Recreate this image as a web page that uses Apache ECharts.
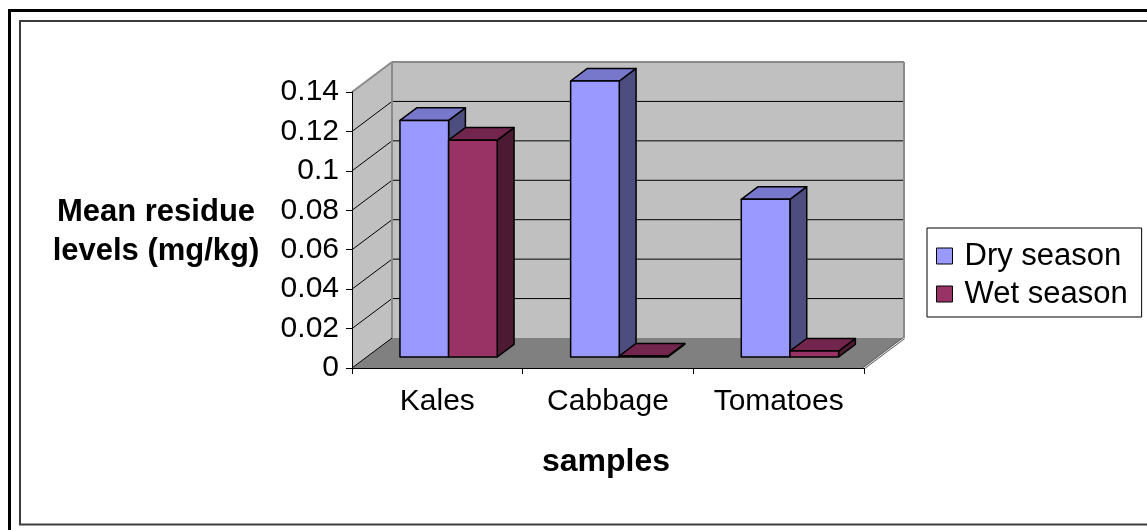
<!DOCTYPE html>
<html>
<head>
<meta charset="utf-8">
<title>Mean residue levels by season</title>
<script src="https://cdn.jsdelivr.net/npm/echarts@6/dist/echarts.min.js"></script>
<style>
  html, body { margin: 0; padding: 0; background: #ffffff; }
  #chart { width: 1147px; height: 530px; }
</style>
</head>
<body>
<div id="chart"></div>
<script>
// Sample categories and mean residue levels (mg/kg) per season
const categories = ['Kales', 'Cabbage', 'Tomatoes'];
const drySeason = [0.12, 0.14, 0.08];
const wetSeason = [0.11, 0.0005, 0.003];
const yTicks = [0, 0.02, 0.04, 0.06, 0.08, 0.1, 0.12, 0.14];
const seriesNames = ['Dry season', 'Wet season'];

const FONT = "'Liberation Sans', Arial, sans-serif";

// Oblique depth of the plot box (front plane -> back wall), in pixels
const DEPTH = [40, -30];
const BAR_FRONT = 0.367;   // bars start this far into the box
const BAR_DEPTH = 0.42;    // and are this deep
const BAR_WIDTH = 0.285;   // share of a category band per bar
const BAR_START = -0.305;  // left edge of first bar relative to band centre

// Face colours: front, top, side
const palette = {
  'Dry season': { front: '#9999ff', top: '#7777cc', side: '#4d4d80' },
  'Wet season': { front: '#993366', top: '#73264d', side: '#4d1a33' }
};

function renderWalls(params, api) {
  const cs = params.coordSys;
  const L = cs.x, R = cs.x + cs.width;
  const y0 = api.coord([0, yTicks[0]])[1];
  const yTop = api.coord([0, yTicks[yTicks.length - 1]])[1];
  const dx = DEPTH[0], dy = DEPTH[1];
  const children = [];
  // back wall
  children.push({ type: 'polygon', shape: { points: [[L + dx, y0 + dy], [R + dx, y0 + dy], [R + dx, yTop + dy], [L + dx, yTop + dy]] },
    style: { fill: '#c0c0c0', stroke: null } });
  // side wall
  children.push({ type: 'polygon', shape: { points: [[L, y0], [L + dx, y0 + dy], [L + dx, yTop + dy], [L, yTop]] },
    style: { fill: '#c0c0c0', stroke: null } });
  // floor
  children.push({ type: 'polygon', shape: { points: [[L, y0], [R, y0], [R + dx, y0 + dy], [L + dx, y0 + dy]] },
    style: { fill: '#808080', stroke: null } });
  // gridlines on back and side walls
  yTicks.forEach(function (v, k) {
    const y = api.coord([0, v])[1];
    const last = k === yTicks.length - 1;
    const col = last ? '#8a8a8a' : '#000000';
    const lw = last ? 2 : 1;
    children.push({ type: 'line', shape: { x1: L, y1: y, x2: L + dx, y2: y + dy }, style: { stroke: col, lineWidth: lw } });
    if (k > 0) {
      children.push({ type: 'line', shape: { x1: L + dx, y1: y + dy, x2: R + dx, y2: y + dy }, style: { stroke: col, lineWidth: lw } });
    }
  });
  // back wall edges
  children.push({ type: 'line', shape: { x1: L + dx, y1: y0 + dy, x2: L + dx, y2: yTop + dy }, style: { stroke: '#8a8a8a', lineWidth: 2 } });
  children.push({ type: 'line', shape: { x1: R + dx, y1: y0 + dy, x2: R + dx, y2: yTop + dy }, style: { stroke: '#8a8a8a', lineWidth: 2 } });
  // floor right edge
  children.push({ type: 'line', shape: { x1: R, y1: y0, x2: R + dx, y2: y0 + dy }, style: { stroke: '#5a5a5a', lineWidth: 2.5 } });
  children.push({ type: 'line', shape: { x1: R, y1: y0, x2: R + dx, y2: y0 + dy }, style: { stroke: '#f2f2f2', lineWidth: 1 } });
  return { type: 'group', children: children };
}

function makeBarRenderer(seriesIndex, name) {
  const c = palette[name];
  return function (params, api) {
    const i = api.value(0);
    const v = api.value(1);
    const bw = api.size([1, 0])[0];
    const base = api.coord([i, 0]);
    const yv = api.coord([i, v])[1];
    const sx = BAR_FRONT * DEPTH[0], sy = BAR_FRONT * DEPTH[1];
    const ddx = BAR_DEPTH * DEPTH[0], ddy = BAR_DEPTH * DEPTH[1];
    const w = BAR_WIDTH * bw;
    const x1 = base[0] + (BAR_START + seriesIndex * BAR_WIDTH) * bw + sx;
    const x2 = x1 + w;
    const yb = base[1] + sy;
    const yt = yv + sy;
    const stroke = { stroke: '#000000', lineWidth: 1.5, lineJoin: 'round' };
    return {
      type: 'group',
      children: [
        { type: 'polygon', shape: { points: [[x2, yt], [x2, yb], [x2 + ddx, yb + ddy], [x2 + ddx, yt + ddy]] },
          style: Object.assign({ fill: c.side }, stroke) },
        { type: 'polygon', shape: { points: [[x1, yt], [x2, yt], [x2 + ddx, yt + ddy], [x1 + ddx, yt + ddy]] },
          style: Object.assign({ fill: c.top }, stroke) },
        { type: 'rect', shape: { x: x1, y: yt, width: w, height: yb - yt },
          style: Object.assign({ fill: c.front }, stroke) }
      ]
    };
  };
}

const chart = echarts.init(document.getElementById('chart'), null, { renderer: 'canvas' });

const option = {
  backgroundColor: '#ffffff',
  animation: false,
  grid: { left: 352, right: 283, top: 92, bottom: 162, containLabel: false },
  xAxis: {
    type: 'category',
    data: categories,
    boundaryGap: true,
    z: 5,
    axisLine: { show: true, lineStyle: { color: '#000000', width: 1 } },
    axisTick: { show: true, length: 6, lineStyle: { color: '#000000' } },
    axisLabel: { color: '#000000', fontSize: 30, fontFamily: FONT, margin: 19 },
    splitLine: { show: false }
  },
  yAxis: {
    type: 'value',
    min: yTicks[0],
    max: yTicks[yTicks.length - 1],
    interval: 0.02,
    z: 5,
    axisLine: { show: true, lineStyle: { color: '#000000', width: 1 } },
    axisTick: { show: true, length: 6, lineStyle: { color: '#000000' } },
    axisLabel: { color: '#000000', fontSize: 30, fontFamily: FONT, margin: 13 },
    splitLine: { show: false }
  },
  legend: {
    orient: 'vertical',
    left: 927,
    top: 228,
    padding: [11, 14, 6, 9],
    itemGap: 4,
    itemWidth: 16,
    itemHeight: 16,
    borderColor: '#000000',
    borderWidth: 1,
    backgroundColor: '#ffffff',
    textStyle: { color: '#000000', fontSize: 31, fontFamily: FONT, lineHeight: 34, padding: [0, 0, 0, 7] },
    data: seriesNames.map(function (n) {
      return { name: n, icon: 'rect', itemStyle: { color: palette[n].front, borderColor: '#000000', borderWidth: 1 } };
    })
  },
  graphic: [
    { type: 'rect', z: 100, silent: true, shape: { x: 9.5, y: 10.5, width: 1300, height: 700 },
      style: { fill: null, stroke: '#000000', lineWidth: 3 } },
    { type: 'rect', z: 100, silent: true, shape: { x: 20, y: 21, width: 1300, height: 503.5 },
      style: { fill: null, stroke: '#3c3c3c', lineWidth: 2 } },
    { type: 'text', z: 100, silent: true, x: 156, y: 232,
      style: { text: 'Mean residue\nlevels (mg/kg)', fill: '#000000', font: 'bold 31px ' + FONT,
        align: 'center', verticalAlign: 'middle', lineHeight: 39 } },
    { type: 'text', z: 100, silent: true, x: 606, y: 462,
      style: { text: 'samples', fill: '#000000', font: 'bold 32px ' + FONT,
        align: 'center', verticalAlign: 'middle' } }
  ],
  series: [
    {
      name: 'walls',
      type: 'custom',
      silent: true,
      clip: false,
      z: 1,
      renderItem: renderWalls,
      data: [[0, 0]]
    },
    {
      name: seriesNames[0],
      type: 'custom',
      clip: false,
      z: 2,
      itemStyle: { color: palette[seriesNames[0]].front },
      renderItem: makeBarRenderer(0, seriesNames[0]),
      encode: { x: 0, y: 1 },
      data: drySeason.map(function (v, i) { return [i, v]; })
    },
    {
      name: seriesNames[1],
      type: 'custom',
      clip: false,
      z: 3,
      itemStyle: { color: palette[seriesNames[1]].front },
      renderItem: makeBarRenderer(1, seriesNames[1]),
      encode: { x: 0, y: 1 },
      data: wetSeason.map(function (v, i) { return [i, v]; })
    }
  ]
};

chart.setOption(option);
</script>
</body>
</html>
